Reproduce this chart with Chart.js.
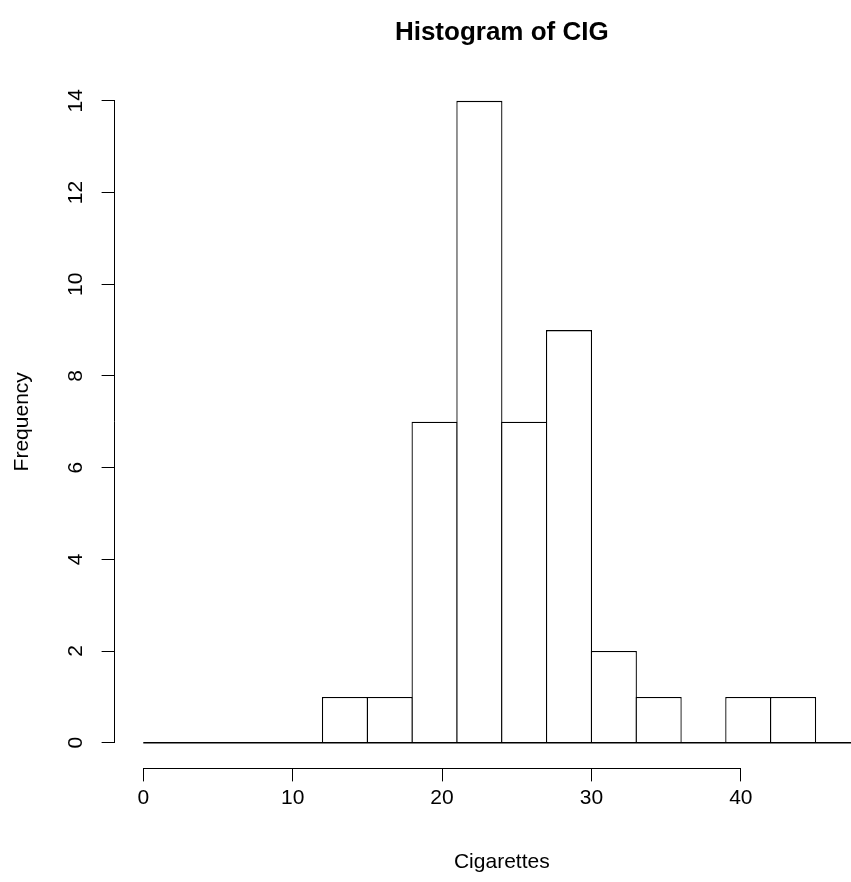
<!DOCTYPE html>
<html>
<head>
<meta charset="utf-8">
<script src="https://cdn.jsdelivr.net/npm/chart.js@4/dist/chart.umd.min.js"></script>
<style>
  html, body { margin: 0; padding: 0; background: #fff; overflow: hidden; }
  #wrap { width: 900px; height: 882px; }
</style>
</head>
<body>
<div id="wrap"><canvas id="hist"></canvas></div>
<script>
// Histogram of CIG: bins of width 3 from 0 to 48
const breaks = [0, 3, 6, 9, 12, 15, 18, 21, 24, 27, 30, 33, 36, 39, 42, 45, 48]
const counts = [0, 0, 0, 0, 1, 1, 7, 14, 7, 9, 2, 1, 0, 1, 1, 0]
const xTicks = [0, 10, 20, 30, 40]
const yTicks = [0, 2, 4, 6, 8, 10, 12, 14]

// R pads the axis range by 4% on both sides
const pad = (lo, hi) => [lo - (hi - lo) * 0.04, hi + (hi - lo) * 0.04]
const [xMin, xMax] = pad(breaks[0], breaks[breaks.length - 1])
const [yMin, yMax] = pad(0, Math.max(...counts))

const bars = counts.map((c, i) => ({ x: (breaks[i] + breaks[i + 1]) / 2, y: c }))
const baseline = [{ x: breaks[0], y: 0 }, { x: breaks[breaks.length - 1], y: 0 }]

// R style axis: the line only runs from the first to the last tick
const axisLines = {
  id: "axisLines",
  afterDraw(chart) {
    const { ctx, scales: { x, y } } = chart
    ctx.save()
    ctx.strokeStyle = "#000"
    ctx.lineWidth = 1
    ctx.beginPath()
    const xy = Math.round(x.top) + 0.5
    ctx.moveTo(x.getPixelForValue(xTicks[0]), xy)
    ctx.lineTo(x.getPixelForValue(xTicks[xTicks.length - 1]), xy)
    const yx = Math.round(y.right) - 0.5
    ctx.moveTo(yx, y.getPixelForValue(yTicks[0]))
    ctx.lineTo(yx, y.getPixelForValue(yTicks[yTicks.length - 1]))
    ctx.stroke()
    ctx.restore()
  }
}

Chart.defaults.font.family = '"Liberation Sans", Arial, sans-serif'
Chart.defaults.color = "#000"

new Chart(document.getElementById("hist"), {
  type: "bar",
  data: {
    datasets: [
      {
        data: bars,
        backgroundColor: "#fff",
        borderColor: "#000",
        borderWidth: 1.3,
        borderSkipped: "start",
        barPercentage: 1.029,
        categoryPercentage: 1,
        order: 2
      },
      {
        // bottom edge of every bin, including the empty ones
        type: "line",
        data: baseline,
        borderColor: "#000",
        borderWidth: 1.3,
        pointRadius: 0,
        order: 1
      }
    ]
  },
  options: {
    responsive: true,
    maintainAspectRatio: false,
    animation: false,
    layout: { padding: { left: 0, right: 11, top: 0, bottom: 0 } },
    plugins: {
      legend: { display: false },
      tooltip: { enabled: false },
      title: {
        display: true,
        text: "Histogram of CIG",
        fullSize: false,
        font: { size: 26, weight: "bold" },
        color: "#000",
        padding: { top: 17, bottom: 27 }
      }
    },
    scales: {
      x: {
        type: "linear",
        min: xMin,
        max: xMax,
        offset: false,
        afterBuildTicks: (s) => { s.ticks = xTicks.map((v) => ({ value: v })) },
        afterFit: (s) => { s.height = 113.6 },
        grid: { offset: false, drawOnChartArea: false, drawTicks: true, tickLength: 13, color: "#000" },
        border: { display: false },
        ticks: { font: { size: 21 }, padding: 4, maxRotation: 0, autoSkip: false },
        title: { display: true, text: "Cigarettes", font: { size: 21 }, padding: { top: 0, bottom: 7 } }
      },
      y: {
        min: yMin,
        max: yMax,
        afterBuildTicks: (s) => { s.ticks = yTicks.map((v) => ({ value: v })) },
        afterFit: (s) => { s.width = 114.6 },
        grid: { drawOnChartArea: false, drawTicks: true, tickLength: 13, color: "#000" },
        border: { display: false },
        ticks: { font: { size: 21 }, padding: 14, minRotation: 90, maxRotation: 90, crossAlign: "center", autoSkip: false },
        title: { display: true, text: "Frequency", font: { size: 21 }, padding: { top: 10, bottom: 0 } }
      }
    }
  },
  plugins: [axisLines]
})
</script>
</body>
</html>
